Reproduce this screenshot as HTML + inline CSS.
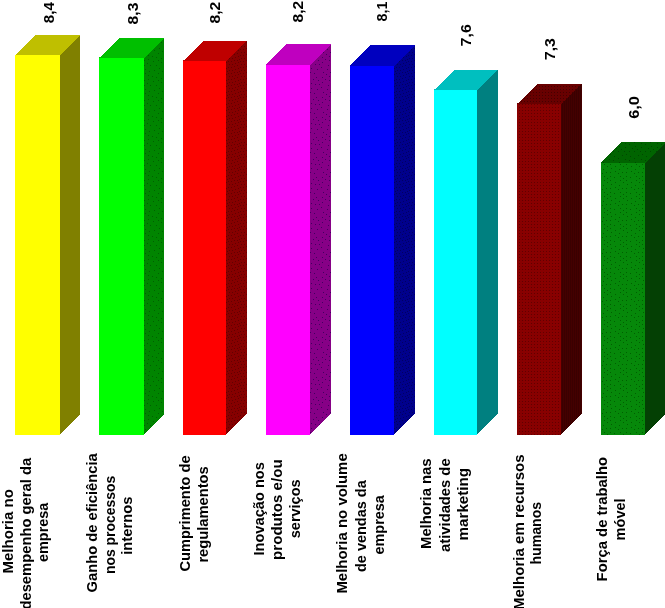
<!DOCTYPE html>
<html lang="pt"><head><meta charset="utf-8"><title>Gráfico</title>
<style>
html,body{margin:0;padding:0;background:#fff;}
body{width:665px;height:608px;overflow:hidden;position:relative;}
svg{display:block;position:absolute;left:0;top:0;}
text{font-family:"Liberation Sans",sans-serif;font-weight:bold;font-size:15.5px;fill:#000;text-anchor:start;}
text.v{font-size:15.2px;}
</style></head><body>
<svg width="665" height="608" viewBox="0 0 665 608">
<defs><pattern id="p2" width="20" height="20" patternUnits="userSpaceOnUse"><rect width="20" height="20" fill="#008400"/><rect x="1" y="2" width="1" height="1" fill="#006000"/><rect x="2" y="11" width="1" height="1" fill="#006000"/><rect x="5" y="9" width="1" height="1" fill="#006000"/><rect x="8" y="19" width="1" height="1" fill="#006000"/><rect x="1" y="18" width="1" height="1" fill="#006000"/><rect x="5" y="13" width="1" height="1" fill="#006000"/><rect x="12" y="16" width="1" height="1" fill="#006000"/><rect x="14" y="10" width="1" height="1" fill="#006000"/><rect x="16" y="5" width="1" height="1" fill="#006000"/><rect x="10" y="5" width="1" height="1" fill="#006000"/><rect x="16" y="17" width="1" height="1" fill="#006000"/><rect x="19" y="8" width="1" height="1" fill="#006000"/><rect x="18" y="13" width="1" height="1" fill="#006000"/><rect x="7" y="3" width="1" height="1" fill="#006000"/><rect x="13" y="1" width="1" height="1" fill="#006000"/><rect x="4" y="5" width="1" height="1" fill="#006000"/><rect x="9" y="11" width="1" height="1" fill="#006000"/><rect x="8" y="15" width="1" height="1" fill="#006000"/><rect x="4" y="0" width="1" height="1" fill="#006000"/><rect x="18" y="0" width="1" height="1" fill="#006000"/></pattern>
<pattern id="p3" width="12" height="12" patternUnits="userSpaceOnUse"><rect width="12" height="12" fill="#860000"/><rect x="0" y="1" width="1" height="1" fill="#620000"/><rect x="3" y="1" width="1" height="1" fill="#620000"/><rect x="6" y="0" width="1" height="1" fill="#620000"/><rect x="9" y="0" width="1" height="1" fill="#620000"/><rect x="1" y="4" width="1" height="1" fill="#620000"/><rect x="4" y="4" width="1" height="1" fill="#620000"/><rect x="7" y="3" width="1" height="1" fill="#620000"/><rect x="10" y="2" width="1" height="1" fill="#620000"/><rect x="0" y="7" width="1" height="1" fill="#620000"/><rect x="3" y="7" width="1" height="1" fill="#620000"/><rect x="6" y="6" width="1" height="1" fill="#620000"/><rect x="9" y="5" width="1" height="1" fill="#620000"/><rect x="1" y="10" width="1" height="1" fill="#620000"/><rect x="4" y="10" width="1" height="1" fill="#620000"/><rect x="7" y="9" width="1" height="1" fill="#620000"/><rect x="10" y="8" width="1" height="1" fill="#620000"/><rect x="11" y="11" width="1" height="1" fill="#620000"/></pattern>
<pattern id="p4" width="20" height="20" patternUnits="userSpaceOnUse"><rect width="20" height="20" fill="#860086"/><rect x="7" y="9" width="1" height="1" fill="#420060"/><rect x="3" y="12" width="1" height="1" fill="#420060"/><rect x="15" y="4" width="1" height="1" fill="#420060"/><rect x="2" y="2" width="1" height="1" fill="#420060"/><rect x="17" y="9" width="1" height="1" fill="#420060"/><rect x="1" y="7" width="1" height="1" fill="#420060"/><rect x="16" y="17" width="1" height="1" fill="#420060"/><rect x="11" y="8" width="1" height="1" fill="#420060"/><rect x="10" y="12" width="1" height="1" fill="#420060"/><rect x="2" y="17" width="1" height="1" fill="#420060"/><rect x="9" y="0" width="1" height="1" fill="#420060"/><rect x="9" y="16" width="1" height="1" fill="#420060"/><rect x="13" y="19" width="1" height="1" fill="#420060"/><rect x="6" y="14" width="1" height="1" fill="#420060"/><rect x="8" y="5" width="1" height="1" fill="#420060"/><rect x="18" y="0" width="1" height="1" fill="#420060"/><rect x="19" y="4" width="1" height="1" fill="#420060"/><rect x="14" y="13" width="1" height="1" fill="#420060"/><rect x="5" y="19" width="1" height="1" fill="#420060"/><rect x="11" y="3" width="1" height="1" fill="#420060"/></pattern>
<pattern id="p5" width="12" height="12" patternUnits="userSpaceOnUse"><rect width="12" height="12" fill="#00008c"/><rect x="0" y="1" width="1" height="1" fill="#000062"/><rect x="3" y="1" width="1" height="1" fill="#000062"/><rect x="6" y="0" width="1" height="1" fill="#000062"/><rect x="9" y="0" width="1" height="1" fill="#000062"/><rect x="1" y="4" width="1" height="1" fill="#000062"/><rect x="4" y="4" width="1" height="1" fill="#000062"/><rect x="7" y="3" width="1" height="1" fill="#000062"/><rect x="10" y="2" width="1" height="1" fill="#000062"/><rect x="0" y="7" width="1" height="1" fill="#000062"/><rect x="3" y="7" width="1" height="1" fill="#000062"/><rect x="6" y="6" width="1" height="1" fill="#000062"/><rect x="9" y="5" width="1" height="1" fill="#000062"/><rect x="1" y="10" width="1" height="1" fill="#000062"/><rect x="4" y="10" width="1" height="1" fill="#000062"/><rect x="7" y="9" width="1" height="1" fill="#000062"/><rect x="10" y="8" width="1" height="1" fill="#000062"/><rect x="11" y="11" width="1" height="1" fill="#000062"/></pattern>
<pattern id="p7f" width="3" height="3" patternUnits="userSpaceOnUse"><rect width="3" height="3" fill="#880000"/><rect x="0" y="2" width="1" height="1" fill="#600000"/></pattern>
<pattern id="p7t" width="3" height="3" patternUnits="userSpaceOnUse"><rect width="3" height="3" fill="#680000"/><rect x="2" y="2" width="1" height="1" fill="#440000"/></pattern>
<pattern id="p7s" width="2" height="2" patternUnits="userSpaceOnUse"><rect width="2" height="2" fill="#440000"/><rect x="0" y="0" width="1" height="1" fill="#3a0000"/><rect x="0" y="1" width="1" height="1" fill="#3a0000"/></pattern>
<pattern id="p8f" width="16" height="16" patternUnits="userSpaceOnUse"><rect width="16" height="16" fill="#06880a"/><rect x="7" y="11" width="1" height="1" fill="#006000"/><rect x="12" y="4" width="1" height="1" fill="#006000"/><rect x="6" y="1" width="1" height="1" fill="#006000"/><rect x="2" y="4" width="1" height="1" fill="#006000"/><rect x="7" y="6" width="1" height="1" fill="#006000"/><rect x="12" y="0" width="1" height="1" fill="#006000"/><rect x="14" y="12" width="1" height="1" fill="#006000"/><rect x="15" y="6" width="1" height="1" fill="#006000"/><rect x="2" y="12" width="1" height="1" fill="#006000"/><rect x="11" y="9" width="1" height="1" fill="#006000"/><rect x="10" y="13" width="1" height="1" fill="#006000"/><rect x="15" y="2" width="1" height="1" fill="#006000"/><rect x="3" y="8" width="1" height="1" fill="#006000"/><rect x="2" y="0" width="1" height="1" fill="#006000"/></pattern>
<pattern id="p8t" width="16" height="16" patternUnits="userSpaceOnUse"><rect width="16" height="16" fill="#006400"/><rect x="14" y="11" width="1" height="1" fill="#004800"/><rect x="8" y="4" width="1" height="1" fill="#004800"/><rect x="5" y="0" width="1" height="1" fill="#004800"/><rect x="10" y="14" width="1" height="1" fill="#004800"/><rect x="2" y="10" width="1" height="1" fill="#004800"/><rect x="13" y="5" width="1" height="1" fill="#004800"/><rect x="5" y="7" width="1" height="1" fill="#004800"/><rect x="1" y="3" width="1" height="1" fill="#004800"/><rect x="6" y="12" width="1" height="1" fill="#004800"/><rect x="0" y="7" width="1" height="1" fill="#004800"/><rect x="11" y="2" width="1" height="1" fill="#004800"/><rect x="1" y="15" width="1" height="1" fill="#004800"/><rect x="10" y="7" width="1" height="1" fill="#004800"/></pattern>
</defs>
<g shape-rendering="crispEdges">
<polygon points="15,55 35.5,35 80,35 60,55" fill="#bfbf00"/>
<polygon points="60,55 80,35 80,414.5 60,434.5" fill="#808000"/>
<rect x="15" y="55" width="45" height="380" fill="#ffff00"/>
<polygon points="99,58 119.3,38 164,38 144,58" fill="#00bf00"/>
<polygon points="144,58 164,38 164,414.5 144,434.5" fill="url(#p2)"/>
<rect x="99" y="58" width="45" height="377" fill="#00ff00"/>
<polygon points="183,61 203.3,41 247,41 226,61" fill="#bf0000"/>
<polygon points="226,61 247,41 247,413.5 226,434.5" fill="url(#p3)"/>
<rect x="183" y="61" width="43" height="374" fill="#ff0000"/>
<polygon points="266,65 286.3,44 331,44 310,65" fill="#bf00bf"/>
<polygon points="310,65 331,44 331,413.5 310,434.5" fill="url(#p4)"/>
<rect x="266" y="65" width="44" height="370" fill="#ff00ff"/>
<polygon points="350,66 370.3,45 415,45 394,66" fill="#0000bf"/>
<polygon points="394,66 415,45 415,413.5 394,434.5" fill="url(#p5)"/>
<rect x="350" y="66" width="44" height="369" fill="#0000ff"/>
<polygon points="434,90 454.3,70 498,70 477,90" fill="#00bfbf"/>
<polygon points="477,90 498,70 498,413.5 477,434.5" fill="#008080"/>
<rect x="434" y="90" width="43" height="345" fill="#00ffff"/>
<polygon points="517,104 537.3,84 582,84 561,104" fill="url(#p7t)"/>
<polygon points="561,104 582,84 582,413.5 561,434.5" fill="url(#p7s)"/>
<rect x="517" y="104" width="44" height="331" fill="url(#p7f)"/>
<polygon points="601,163 621.3,142 666,142 645,163" fill="url(#p8t)"/>
<polygon points="645,163 666,142 666,413.5 645,434.5" fill="#044004"/>
<rect x="601" y="163" width="44" height="272" fill="url(#p8f)"/>
</g>
<text class="v" transform="translate(54.00,23.16) rotate(-90)" textLength="20.96" lengthAdjust="spacingAndGlyphs">8,4</text>
<text class="v" transform="translate(137.90,24.42) rotate(-90)" textLength="21.76" lengthAdjust="spacingAndGlyphs">8,3</text>
<text class="v" transform="translate(220.00,23.60) rotate(-90)" textLength="21.86" lengthAdjust="spacingAndGlyphs">8,2</text>
<text class="v" transform="translate(302.70,22.42) rotate(-90)" textLength="21.60" lengthAdjust="spacingAndGlyphs">8,2</text>
<text class="v" transform="translate(386.70,21.42) rotate(-90)" textLength="19.94" lengthAdjust="spacingAndGlyphs">8,1</text>
<text class="v" transform="translate(471.10,46.42) rotate(-90)" textLength="22.20" lengthAdjust="spacingAndGlyphs">7,6</text>
<text class="v" transform="translate(555.20,60.24) rotate(-90)" textLength="22.20" lengthAdjust="spacingAndGlyphs">7,3</text>
<text class="v" transform="translate(639.20,118.78) rotate(-90)" textLength="22.74" lengthAdjust="spacingAndGlyphs">6,0</text>
<text transform="translate(13.30,573.60) rotate(-90)" textLength="84.48" lengthAdjust="spacingAndGlyphs">Melhoria no</text>
<text transform="translate(31.00,609.60) rotate(-90)" textLength="151.80" lengthAdjust="spacingAndGlyphs">desempenho geral da</text>
<text transform="translate(48.00,561.88) rotate(-90)" textLength="59.04" lengthAdjust="spacingAndGlyphs">empresa</text>
<text transform="translate(97.40,592.52) rotate(-90)" textLength="139.22" lengthAdjust="spacingAndGlyphs">Ganho de eficiência</text>
<text transform="translate(114.80,574.06) rotate(-90)" textLength="98.30" lengthAdjust="spacingAndGlyphs">nos processos</text>
<text transform="translate(132.40,554.78) rotate(-90)" textLength="58.30" lengthAdjust="spacingAndGlyphs">internos</text>
<text transform="translate(189.60,571.60) rotate(-90)" textLength="116.30" lengthAdjust="spacingAndGlyphs">Cumprimento de</text>
<text transform="translate(208.00,562.60) rotate(-90)" textLength="96.30" lengthAdjust="spacingAndGlyphs">regulamentos</text>
<text transform="translate(264.30,555.60) rotate(-90)" textLength="93.56" lengthAdjust="spacingAndGlyphs">Inovação nos</text>
<text transform="translate(281.80,559.88) rotate(-90)" textLength="100.48" lengthAdjust="spacingAndGlyphs">produtos e/ou</text>
<text transform="translate(299.80,538.24) rotate(-90)" textLength="58.84" lengthAdjust="spacingAndGlyphs">serviços</text>
<text transform="translate(347.20,593.60) rotate(-90)" textLength="140.30" lengthAdjust="spacingAndGlyphs">Melhoria no volume</text>
<text transform="translate(365.80,572.06) rotate(-90)" textLength="91.86" lengthAdjust="spacingAndGlyphs">de vendas da</text>
<text transform="translate(384.20,554.52) rotate(-90)" textLength="59.32" lengthAdjust="spacingAndGlyphs">empresa</text>
<text transform="translate(431.20,548.96) rotate(-90)" textLength="90.56" lengthAdjust="spacingAndGlyphs">Melhoria nas</text>
<text transform="translate(449.80,551.88) rotate(-90)" textLength="93.48" lengthAdjust="spacingAndGlyphs">atividades de</text>
<text transform="translate(467.80,540.42) rotate(-90)" textLength="72.48" lengthAdjust="spacingAndGlyphs">marketing</text>
<text transform="translate(523.50,610.10) rotate(-90)" textLength="155.70" lengthAdjust="spacingAndGlyphs">Melhoria em recursos</text>
<text transform="translate(541.20,564.60) rotate(-90)" textLength="62.84" lengthAdjust="spacingAndGlyphs">humanos</text>
<text transform="translate(607.20,581.42) rotate(-90)" textLength="124.48" lengthAdjust="spacingAndGlyphs">Força de trabalho</text>
<text transform="translate(625.20,540.50) rotate(-90)" textLength="42.18" lengthAdjust="spacingAndGlyphs">móvel</text>
</svg>
</body></html>
